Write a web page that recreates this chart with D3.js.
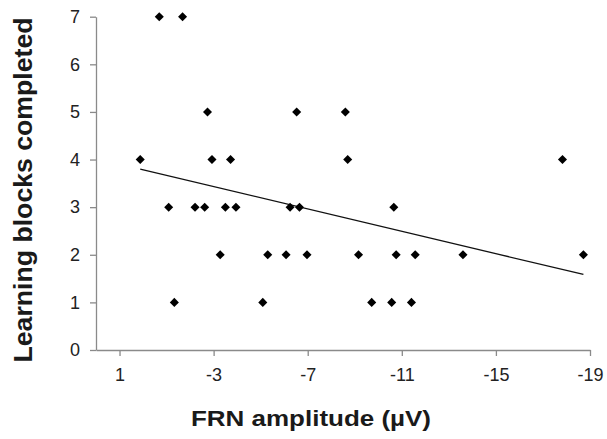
<!DOCTYPE html>
<html>
<head>
<meta charset="utf-8">
<script src="https://cdn.jsdelivr.net/npm/d3@7"></script>
<style>
  body { margin: 0; background: #fff; }
  svg { display: block; }
</style>
</head>
<body>
<div class="chart"></div>
<script>
// FRN amplitude (uV) and learning blocks completed, one entry per participant
const frn    = [-0.69, -1.68,
                -2.74, -6.53, -8.60,
                0.12, -2.93, -3.72, -8.70, -17.83,
                -1.09, -2.21, -2.62, -3.50, -3.95, -6.25, -6.65, -10.66,
                -3.28, -5.30, -6.08, -6.97, -9.16, -10.76, -11.57, -13.60, -18.72,
                -1.33, -5.09, -9.72, -10.57, -11.41];
const blocks = [7, 7,
                5, 5, 5,
                4, 4, 4, 4, 4,
                3, 3, 3, 3, 3, 3, 3, 3,
                2, 2, 2, 2, 2, 2, 2, 2, 2,
                1, 1, 1, 1, 1];
const xTicks = [1, -3, -7, -11, -15, -19];
const yTicks = [0, 1, 2, 3, 4, 5, 6, 7];

const WIDTH = 607, HEIGHT = 439;
const FONT = "Liberation Sans, Arial, sans-serif";
const svg = d3.select(".chart").append("svg").attr("width", WIDTH).attr("height", HEIGHT);

// reversed x: less negative on the left
const x = d3.scaleLinear().domain([2, -19]).range([96, 590]);
const y = d3.scaleLinear().domain([0, 7]).range([350, 16.7]);

const pts = frn.map((v, i) => ({x: v, y: blocks[i]}));

// axes (plain hyphen minus like the original)
const xAxis = svg.append("g").attr("transform", "translate(0,350)")
  .call(d3.axisBottom(x).tickValues(xTicks).tickFormat(d => String(d))
    .tickSize(6).tickPadding(9).tickSizeOuter(0));
const yAxis = svg.append("g").attr("transform", "translate(96,0)")
  .call(d3.axisLeft(y).tickValues(yTicks).tickFormat(d => String(d))
    .tickSize(6).tickPadding(10).tickSizeOuter(0));

[xAxis, yAxis].forEach(a => {
  a.select(".domain").attr("stroke", "#8a8a8a").attr("stroke-width", 1.3);
  a.selectAll(".tick line").attr("stroke", "#8a8a8a").attr("stroke-width", 1.3);
  a.selectAll(".tick text")
    .attr("fill", "#222")
    .style("font-family", FONT)
    .style("font-size", "18px");
});
xAxis.selectAll(".tick text").attr("dy", "0.9em");

// least squares fit line
const mx = d3.mean(frn), my = d3.mean(blocks);
const slope = d3.sum(pts, p => (p.x - mx) * (p.y - my)) / d3.sum(pts, p => (p.x - mx) ** 2);
const fit = d3.extent(frn).map(v => ({x: v, y: my + slope * (v - mx)}));

svg.append("path")
  .datum(fit)
  .attr("fill", "none")
  .attr("stroke", "#111")
  .attr("stroke-width", 1.3)
  .attr("d", d3.line().x(d => x(d.x)).y(d => y(d.y)));

// diamond markers
svg.selectAll(".pt")
  .data(pts)
  .enter()
  .append("path")
  .attr("class", "pt")
  .attr("transform", d => `translate(${x(d.x)},${y(d.y)}) rotate(45)`)
  .attr("d", "M-3.2,-3.2H3.2V3.2H-3.2Z")
  .attr("fill", "#000");

// axis titles
svg.append("text")
  .attr("x", 311).attr("y", 426)
  .attr("text-anchor", "middle")
  .attr("textLength", 240)
  .attr("lengthAdjust", "spacingAndGlyphs")
  .style("font-family", FONT)
  .style("font-weight", "bold")
  .style("font-size", "22px")
  .attr("fill", "#1a1a1a")
  .text("FRN amplitude (µV)");

svg.append("text")
  .attr("transform", "translate(32,190) rotate(-90)")
  .attr("text-anchor", "middle")
  .attr("textLength", 345)
  .attr("lengthAdjust", "spacingAndGlyphs")
  .style("font-family", FONT)
  .style("font-weight", "bold")
  .style("font-size", "25px")
  .attr("fill", "#1a1a1a")
  .text("Learning blocks completed");
</script>
</body>
</html>
